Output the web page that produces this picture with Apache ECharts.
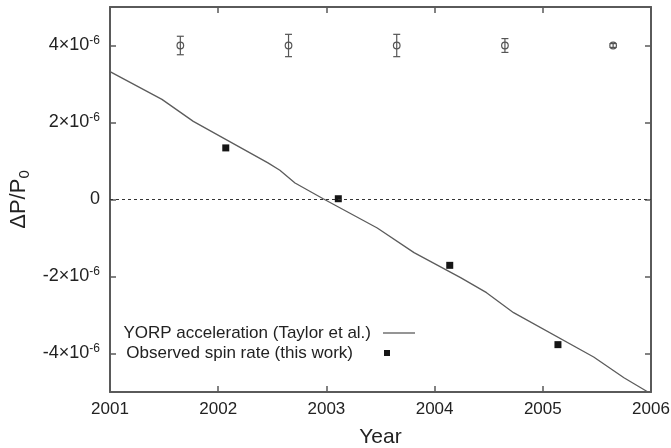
<!DOCTYPE html>
<html>
<head>
<meta charset="utf-8">
<script src="https://cdn.jsdelivr.net/npm/echarts@6/dist/echarts.min.js"></script>
<style>
  html, body { margin: 0; padding: 0; background: #fff; }
  #chart { width: 671px; height: 448px; }
</style>
</head>
<body>
<div id="chart"></div>
<script>
// ΔP/P0 values are stored in units of 1e-6.

// YORP acceleration model curve (Taylor et al.)
const yorpYear  = [2001.00, 2001.48, 2001.77, 2002.09, 2002.46, 2002.57, 2002.71, 2002.97,
                   2003.47, 2003.81, 2004.24, 2004.48, 2004.73, 2005.47, 2005.75, 2005.96, 2006.00];
const yorpValue = [3.32, 2.60, 2.03, 1.53, 0.95, 0.76, 0.43, 0.02,
                   -0.74, -1.38, -2.03, -2.42, -2.94, -4.09, -4.63, -4.98, -5.05];

// Observed spin rate (this work)
const obsYear  = [2002.07, 2003.11, 2004.14, 2005.14];
const obsValue = [1.34, 0.02, -1.71, -3.77];

// Representative error bars drawn along the top of the plot
const errYear  = [2001.65, 2002.65, 2003.65, 2004.65, 2005.65];
const errLevel = [4, 4, 4, 4, 4];
const errHalf  = [0.24, 0.29, 0.29, 0.18, 0.05];

// Axis ticks
const xTicks = [2001, 2002, 2003, 2004, 2005, 2006];
const yTicks = [-4, -2, 0, 2, 4];

const FONT = "'Liberation Sans', Arial, Helvetica, sans-serif";
const AXIS_COLOR = '#5a5a5a';
const TEXT_COLOR = '#222';

const chart = echarts.init(document.getElementById('chart'), null, { renderer: 'canvas' });

const yLabelFmt = v => {
  if (Math.abs(v) < 1e-9) return '{b|0}';
  return '{b|' + Math.round(v) + '×10}{s|-6}';
};

const frameAxis = {
  axisLine: { show: true, onZero: false, lineStyle: { color: AXIS_COLOR, width: 2 } },
  splitLine: { show: false }
};

const option = {
  animation: false,
  backgroundColor: '#fff',
  textStyle: { fontFamily: FONT },
  grid: { left: 110, right: 20, top: 7, bottom: 56, containLabel: false, outerBoundsMode: 'none' },
  xAxis: [
    Object.assign({}, frameAxis, {
      type: 'value', position: 'bottom', min: 2001, max: 2006, interval: 1,
      name: 'Year', nameLocation: 'middle', nameGap: 35,
      nameTextStyle: { fontSize: 21, color: TEXT_COLOR, fontFamily: FONT },
      axisTick: { show: true, inside: true, length: 6, lineStyle: { color: AXIS_COLOR, width: 1.5 } },
      axisLabel: { show: true, fontSize: 17, color: TEXT_COLOR, margin: 9, fontFamily: FONT,
                   formatter: v => String(Math.round(v)) }
    }),
    Object.assign({}, frameAxis, {
      type: 'value', position: 'top', min: 2001, max: 2006, interval: 1,
      axisTick: { show: true, inside: true, length: 6, lineStyle: { color: AXIS_COLOR, width: 1.5 } },
      axisLabel: { show: false }
    })
  ],
  yAxis: [
    Object.assign({}, frameAxis, {
      type: 'value', position: 'left', min: -5, max: 5,
      name: '{m|ΔP/P}{sub|0}', nameLocation: 'middle', nameGap: 74, nameRotate: 90,
      nameTextStyle: {
        color: TEXT_COLOR, fontFamily: FONT,
        rich: {
          m: { fontSize: 22, color: TEXT_COLOR, fontFamily: FONT, lineHeight: 26 },
          sub: { fontSize: 15, color: TEXT_COLOR, fontFamily: FONT, verticalAlign: 'bottom', lineHeight: 15 }
        }
      },
      axisTick: { show: true, inside: true, length: 6, customValues: yTicks,
                  lineStyle: { color: AXIS_COLOR, width: 1.5 } },
      axisLabel: {
        show: true, margin: 10, customValues: yTicks, formatter: yLabelFmt,
        rich: {
          b: { fontSize: 18, color: TEXT_COLOR, fontFamily: FONT, lineHeight: 22 },
          s: { fontSize: 12, color: TEXT_COLOR, fontFamily: FONT, lineHeight: 12, verticalAlign: 'top' }
        }
      }
    }),
    Object.assign({}, frameAxis, {
      type: 'value', position: 'right', min: -5, max: 5,
      axisTick: { show: true, inside: true, length: 6, customValues: yTicks,
                  lineStyle: { color: AXIS_COLOR, width: 1.5 } },
      axisLabel: { show: false }
    })
  ],
  series: [
    {
      name: 'YORP acceleration (Taylor et al.)',
      type: 'line',
      data: yorpYear.map((x, i) => [x, yorpValue[i]]),
      showSymbol: false,
      symbol: 'none',
      clip: true,
      lineStyle: { color: '#5c5c5c', width: 1.3 },
      markLine: {
        silent: true, symbol: 'none', label: { show: false },
        lineStyle: { color: '#333', width: 1, type: [3, 3] },
        data: [{ yAxis: 0 }]
      },
      z: 3
    },
    {
      name: 'Observed spin rate (this work)',
      type: 'scatter',
      data: obsYear.map((x, i) => [x, obsValue[i]]),
      symbol: 'rect',
      symbolSize: 7,
      itemStyle: { color: '#151515', opacity: 1 },
      z: 4
    },
    {
      name: 'error bars',
      type: 'custom',
      data: errYear.map((x, i) => [x, errLevel[i], errHalf[i]]),
      renderItem: (params, api) => {
        const x = api.value(0), y = api.value(1), e = api.value(2);
        const c = api.coord([x, y]);
        const top = api.coord([x, y + e]);
        const bot = api.coord([x, y - e]);
        const cap = 3.5;
        const st = { stroke: '#555', lineWidth: 1.2, fill: null };
        return {
          type: 'group',
          children: [
            { type: 'line', shape: { x1: c[0], y1: top[1], x2: c[0], y2: bot[1] }, style: st },
            { type: 'line', shape: { x1: c[0] - cap, y1: top[1], x2: c[0] + cap, y2: top[1] }, style: st },
            { type: 'line', shape: { x1: c[0] - cap, y1: bot[1], x2: c[0] + cap, y2: bot[1] }, style: st },
            { type: 'circle', shape: { cx: c[0], cy: c[1], r: 3.3 }, style: { stroke: '#555', lineWidth: 1.2, fill: 'none' } }
          ]
        };
      },
      z: 4
    }
  ],
  graphic: [
    { type: 'text', x: 371, y: 333,
      style: { text: 'YORP acceleration (Taylor et al.)', align: 'right', verticalAlign: 'middle',
               font: '17px ' + FONT, fill: TEXT_COLOR } },
    { type: 'line', shape: { x1: 383, y1: 333, x2: 415, y2: 333 },
      style: { stroke: '#5c5c5c', lineWidth: 1.3 } },
    { type: 'text', x: 353, y: 353,
      style: { text: 'Observed spin rate (this work)', align: 'right', verticalAlign: 'middle',
               font: '17px ' + FONT, fill: TEXT_COLOR } },
    { type: 'rect', shape: { x: 384, y: 350, width: 6, height: 6 },
      style: { fill: '#151515' } }
  ]
};

chart.setOption(option);
</script>
</body>
</html>
